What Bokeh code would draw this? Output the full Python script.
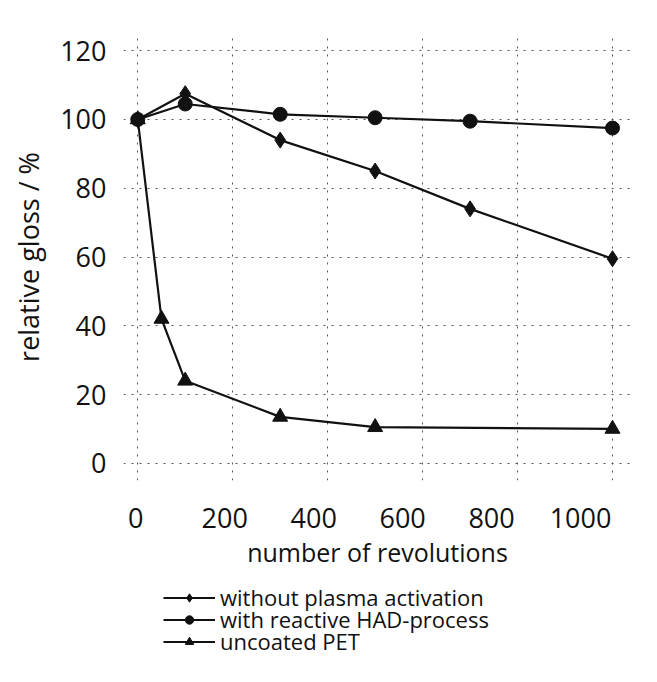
from bokeh.plotting import figure
from bokeh.layouts import column
from bokeh.models import (Range1d, LinearAxis, Grid, SingleIntervalTicker, Legend, LegendItem)
from bokeh.embed import file_html
from bokeh.resources import INLINE

# ---- data ----
x_plain = [0, 100, 300, 500, 700, 1000]
y_plain = [100, 107.5, 94, 85, 74, 59.5]          # without plasma activation

x_had = [0, 100, 300, 500, 700, 1000]
y_had = [100, 104.5, 101.5, 100.5, 99.5, 97.5]    # with reactive HAD-process

x_pet = [0, 50, 100, 300, 500, 1000]
y_pet = [100, 42, 24, 13.5, 10.5, 10]             # uncoated PET

x_ticks_interval = 200
y_ticks_interval = 20
series_names = ["without plasma activation", "with reactive HAD-process", "uncoated PET"]

FONT = "Open Sans"
INK = "#111111"

X0, X1 = -30, 1040
fig = figure(width=657, height=576, output_backend="svg", toolbar_location=None,
             x_range=Range1d(X0, X1), y_range=Range1d(-5, 125),
             x_axis_location=None,
             min_border_left=123, min_border_right=26, min_border_top=33, min_border_bottom=96)
fig.outline_line_color = None
fig.background_fill_color = "white"
fig.border_fill_color = "white"

# grids
fig.xgrid.visible = False
fig.ygrid.visible = False
xg = Grid(dimension=0, ticker=SingleIntervalTicker(interval=x_ticks_interval),
          grid_line_color="#555555", grid_line_dash="2 6", grid_line_width=1)
yg = Grid(dimension=1, ticker=SingleIntervalTicker(interval=y_ticks_interval),
          grid_line_color="#555555", grid_line_dash="2 6", grid_line_width=1)
fig.add_layout(xg, "center")
fig.add_layout(yg, "center")

# y axis
ya = fig.yaxis[0]
ya.ticker = SingleIntervalTicker(interval=y_ticks_interval)
ya.axis_line_color = None
ya.major_tick_line_color = None
ya.minor_tick_line_color = None
ya.major_label_text_font = FONT
ya.major_label_text_font_size = "27px"
ya.major_label_text_color = INK
ya.major_label_standoff = 11
ya.axis_label = "relative gloss / %"
ya.axis_label_text_font = FONT
ya.axis_label_text_font_style = "normal"
ya.axis_label_text_font_size = "27px"
ya.axis_label_text_color = INK
ya.axis_label_standoff = 10

# x axis labels (placed as printed in the figure)
fig.extra_x_ranges = {"lab": Range1d(1.0674 * X0 + 4.49, 1.0674 * X1 + 4.49)}
xa = LinearAxis(x_range_name="lab", ticker=SingleIntervalTicker(interval=x_ticks_interval))
xa.axis_line_color = None
xa.major_tick_line_color = None
xa.minor_tick_line_color = None
xa.major_label_text_font = FONT
xa.major_label_text_font_size = "27px"
xa.major_label_text_color = INK
xa.major_label_standoff = 21
xa.axis_label = "number of revolutions"
xa.axis_label_text_font = FONT
xa.axis_label_text_font_style = "normal"
xa.axis_label_text_font_size = "25px"
xa.axis_label_text_color = INK
xa.axis_label_standoff = 4
fig.add_layout(xa, "below")

STYLES = [dict(marker="diamond", size=16), dict(marker="circle", size=14), dict(marker="triangle", size=15)]
SERIES = [(x_plain, y_plain), (x_had, y_had), (x_pet, y_pet)]


def draw(target):
    rs = []
    for (xs, ys), st in zip(SERIES, STYLES):
        ln = target.line(xs, ys, line_color=INK, line_width=2.2)
        sc = target.scatter(xs, ys, fill_color=INK, line_color=INK, **st)
        rs.append([ln, sc])
    return rs


draw(fig)

# legend panel below the plot (its renderers lie outside its own small range)
leg = figure(width=657, height=106, output_backend="svg", toolbar_location=None,
             x_range=Range1d(0, 1), y_range=Range1d(0, 1),
             x_axis_location=None, y_axis_location=None, min_border=0)
leg.outline_line_color = None
leg.xgrid.visible = False
leg.ygrid.visible = False
leg_rs = draw(leg)
row_bottoms = [70, 48, 26]
for n, r, yb in zip(series_names, leg_rs, row_bottoms):
    lg = Legend(items=[LegendItem(label=n, renderers=r)],
                location=(40, yb), orientation="vertical",
                label_text_font=FONT, label_text_font_size="22px", label_text_color=INK,
                glyph_width=52, glyph_height=21, label_height=21, spacing=0,
                label_standoff=5, padding=0, margin=0,
                border_line_color=None, background_fill_alpha=0)
    leg.add_layout(lg, "center")

p = column(fig, leg, spacing=0)
open("out.html", "w").write(file_html(p, INLINE))
